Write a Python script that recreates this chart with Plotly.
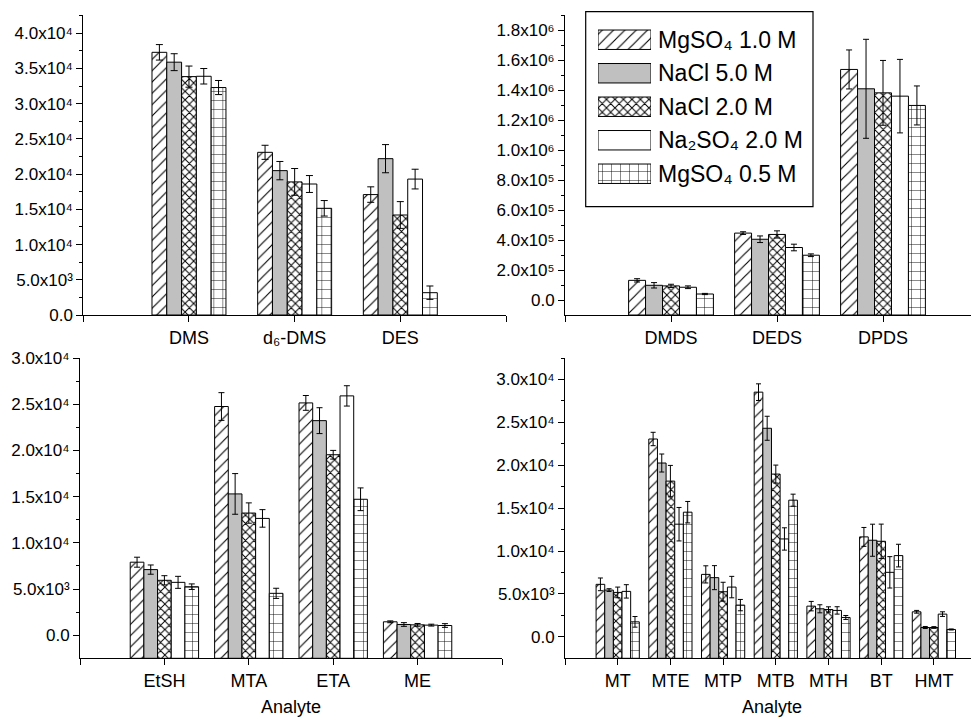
import plotly.graph_objects as go

# ---------------- data ----------------
series_names = ["MgSO₄ 1.0 M", "NaCl 5.0 M", "NaCl 2.0 M",
                "Na₂SO₄ 2.0 M", "MgSO₄ 0.5 M"]

# Panel A (top-left)
cats_a = ["DMS", "d₆-DMS", "DES"]
vals_a = [[37300, 23100, 17100],
          [35900, 20500, 22200],
          [33850, 18900, 14200],
          [33900, 18600, 19300],
          [32300, 15150, 3170]]
errs_a = [[1100, 1000, 1100],
          [1200, 1300, 2000],
          [1500, 1900, 1900],
          [1100, 1200, 1400],
          [1000, 1100, 950]]
ytick_a = [0, 5000, 10000, 15000, 20000, 25000, 30000, 35000, 40000]
ytext_a = ["0.0", "5.0x10³", "1.0x10⁴", "1.5x10⁴", "2.0x10⁴",
           "2.5x10⁴", "3.0x10⁴", "3.5x10⁴", "4.0x10⁴"]

# Panel B (top-right)
cats_b = ["DMDS", "DEDS", "DPDS"]
vals_b = [[131000, 446000, 1537000],
          [98000, 405000, 1408000],
          [94000, 437000, 1381000],
          [85000, 350000, 1359000],
          [40000, 298500, 1297000]]
errs_b = [[11000, 9000, 130000],
          [18000, 22000, 330000],
          [11000, 24000, 216000],
          [9000, 22000, 245000],
          [4000, 9000, 130000]]
ytick_b = [0, 200000, 400000, 600000, 800000, 1000000, 1200000, 1400000, 1600000, 1800000]
ytext_b = ["0.0", "2.0x10⁵", "4.0x10⁵", "6.0x10⁵", "8.0x10⁵",
           "1.0x10⁶", "1.2x10⁶", "1.4x10⁶", "1.6x10⁶", "1.8x10⁶"]

# Panel C (bottom-left)
cats_c = ["EtSH", "MTA", "ETA", "ME"]
vals_c = [[7900, 24750, 25140, 1450],
          [7100, 15290, 23220, 1160],
          [5940, 13220, 19530, 1120],
          [5720, 12640, 25900, 1090],
          [5250, 4530, 14710, 1050]]
errs_c = [[540, 1500, 800, 100],
          [500, 2200, 1400, 200],
          [500, 1100, 470, 150],
          [650, 950, 1100, 100],
          [300, 550, 1230, 200]]
ytick_c = [0, 5000, 10000, 15000, 20000, 25000, 30000]
ytext_c = ["0.0", "5.0x10³", "1.0x10⁴", "1.5x10⁴", "2.0x10⁴", "2.5x10⁴", "3.0x10⁴"]

# Panel D (bottom-right)
cats_d = ["MT", "MTE", "MTP", "MTB", "MTH", "BT", "HMT"]
vals_d = [[6120, 23060, 7280, 28520, 3580, 11650, 2920],
          [5450, 20260, 6900, 24310, 3270, 11260, 1090],
          [5180, 18150, 5260, 18970, 3190, 11140, 1090],
          [5300, 13130, 5800, 11410, 3080, 7520, 2650],
          [1750, 14530, 3700, 15930, 2260, 9470, 860]]
errs_d = [[740, 780, 1000, 970, 550, 1100, 160],
          [160, 1050, 1400, 1400, 470, 1870, 120],
          [620, 1830, 1100, 1050, 310, 2000, 100],
          [780, 1950, 1250, 1300, 430, 1830, 270],
          [620, 1250, 660, 700, 230, 1320, 60]]
ytick_d = [0, 5000, 10000, 15000, 20000, 25000, 30000]
ytext_d = ["0.0", "5.0x10³", "1.0x10⁴", "1.5x10⁴", "2.0x10⁴", "2.5x10⁴", "3.0x10⁴"]

x_title = "Analyte"

# ---------------- styles ----------------
PAGE_W, PAGE_H = 979, 717
OFF = 8  # default page body margin
W, H = PAGE_W - OFF, PAGE_H - OFF
FONT = "Liberation Sans"
fill_colors = ["white", "#c0c0c0", "white", "white", "white"]
pat_shapes = ["/", "", "x", "", "+"]
pat_sizes = [8, 8, 6, 8, 9]
pat_solid = [0.14, 0.2, 0.3, 0.2, 0.1]


def px_x(p):
    return min(1.0, max(0.0, (p - OFF) / W))


def px_y(p):
    return min(1.0, max(0.0, 1 - (p - OFF) / H))


panels = [
    dict(cats=cats_a, vals=vals_a, errs=errs_a, yt=ytick_a, ytx=ytext_a, yr=[0, 42600],
         yd=(15, 315), xd=(83.3, 506), xr=[0, 4], g=0.70, cap=3.5, minor=2500, title=None),
    dict(cats=cats_b, vals=vals_b, errs=errs_b, yt=ytick_b, ytx=ytext_b, yr=[-100000, 1900000],
         yd=(15, 315), xd=(565, 979), xr=[0, 414 / 106.0], g=0.80, cap=3, minor=100000, title=None),
    dict(cats=cats_c, vals=vals_c, errs=errs_c, yt=ytick_c, ytx=ytext_c, yr=[-2500, 30000],
         yd=(358, 658.3), xd=(80, 502), xr=[0, 5], g=0.81, cap=3, minor=2500, title=x_title),
    dict(cats=cats_d, vals=vals_d, errs=errs_d, yt=ytick_d, ytx=ytext_d, yr=[-2500, 32500],
         yd=(358, 658.3), xd=(565, 979), xr=[0, 414 / 52.7], g=0.82, cap=2.5, minor=2500, title=x_title),
]

fig = go.Figure()
layout = dict(
    width=W, height=H,
    margin=dict(l=0, r=0, t=0, b=0, pad=0, autoexpand=False),
    paper_bgcolor="white", plot_bgcolor="white",
    barmode="overlay", showlegend=False,
    font=dict(family=FONT, color="black", size=17),
)

for pi, p in enumerate(panels):
    k = "" if pi == 0 else str(pi + 1)
    xa, ya = "x" + k, "y" + k
    n = len(p["cats"])
    base = p["yr"][0]
    g = p["g"]
    w = g / 5.0
    xpos = list(range(1, n + 1))
    for si in range(5):
        fig.add_trace(go.Bar(
            x=xpos,
            y=[v - base for v in p["vals"][si]],
            base=base,
            offset=-g / 2 + si * w,
            width=w,
            name=series_names[si],
            marker=dict(
                color=fill_colors[si],
                line=dict(color="black", width=1),
                pattern=dict(shape=pat_shapes[si], fgcolor="black", bgcolor=fill_colors[si],
                             size=pat_sizes[si], solidity=pat_solid[si], fillmode="replace"),
            ),
            error_y=dict(type="data", array=p["errs"][si], visible=True,
                         color="black", thickness=1, width=p["cap"]),
            xaxis=xa, yaxis=ya, showlegend=False, hoverinfo="skip",
        ))
    tickvals = [0] + xpos + [n + 1]
    ticktext = [" "] + p["cats"] + [" "]
    minor_vals = []
    v = p["yr"][0]
    while v <= p["yr"][1]:
        if v not in p["yt"] and v > p["yr"][0]:
            minor_vals.append(v)
        v += p["minor"]
    xaxis = dict(
        domain=[px_x(p["xd"][0]), px_x(p["xd"][1])],
        range=p["xr"], anchor=ya, automargin=False,
        showline=True, linecolor="black", linewidth=1,
        ticks="outside", ticklen=6, tickcolor="black", tickwidth=1,
        tickmode="array", tickvals=tickvals, ticktext=ticktext,
        tickfont=dict(size=18, family=FONT, color="black"),
        showgrid=False, zeroline=False, fixedrange=True,
    )
    if p["title"]:
        xaxis["title"] = dict(text=p["title"], font=dict(size=18, family=FONT, color="black"), standoff=10)
    yaxis = dict(
        domain=[px_y(p["yd"][1]), px_y(p["yd"][0])],
        range=p["yr"], anchor=xa, automargin=False,
        showline=True, linecolor="black", linewidth=1,
        ticks="outside", ticklen=6, tickcolor="black", tickwidth=1,
        tickmode="array", tickvals=p["yt"], ticktext=p["ytx"],
        tickfont=dict(size=17, family=FONT, color="black"),
        minor=dict(tickvals=minor_vals, ticks="outside", ticklen=3, tickcolor="black", showgrid=False),
        showgrid=False, zeroline=False, fixedrange=True,
    )
    layout["xaxis" + k] = xaxis
    layout["yaxis" + k] = yaxis

# ---------------- legend (drawn as a key panel) ----------------
for si in range(5):
    fig.add_trace(go.Bar(
        y=[series_names[si]], x=[1], orientation="h", width=0.58,
        marker=dict(
            color=fill_colors[si],
            line=dict(color="black", width=1),
            pattern=dict(shape=pat_shapes[si], fgcolor="black", bgcolor=fill_colors[si],
                         size=pat_sizes[si], solidity=pat_solid[si], fillmode="replace"),
        ),
        xaxis="x5", yaxis="y5", showlegend=False, hoverinfo="skip",
    ))

layout["xaxis5"] = dict(domain=[px_x(598), px_x(651)], range=[0, 1], anchor="y5",
                        visible=False, fixedrange=True, automargin=False)
layout["yaxis5"] = dict(domain=[px_y(190.5), px_y(23)], anchor="x5", side="right",
                        type="category", categoryorder="array", categoryarray=series_names,
                        range=[4.5, -0.5], showline=False, ticks="", showgrid=False,
                        zeroline=False, ticklabelstandoff=6, automargin=False,
                        tickfont=dict(size=23, family=FONT, color="black"), fixedrange=True)

layout["shapes"] = [dict(type="rect", xref="paper", yref="paper",
                         x0=px_x(585.7), x1=px_x(813), y0=px_y(206.7), y1=px_y(11.7),
                         line=dict(color="black", width=1.2), fillcolor="white", layer="below")]

fig.update_layout(**layout)
fig.write_html("out.html")
